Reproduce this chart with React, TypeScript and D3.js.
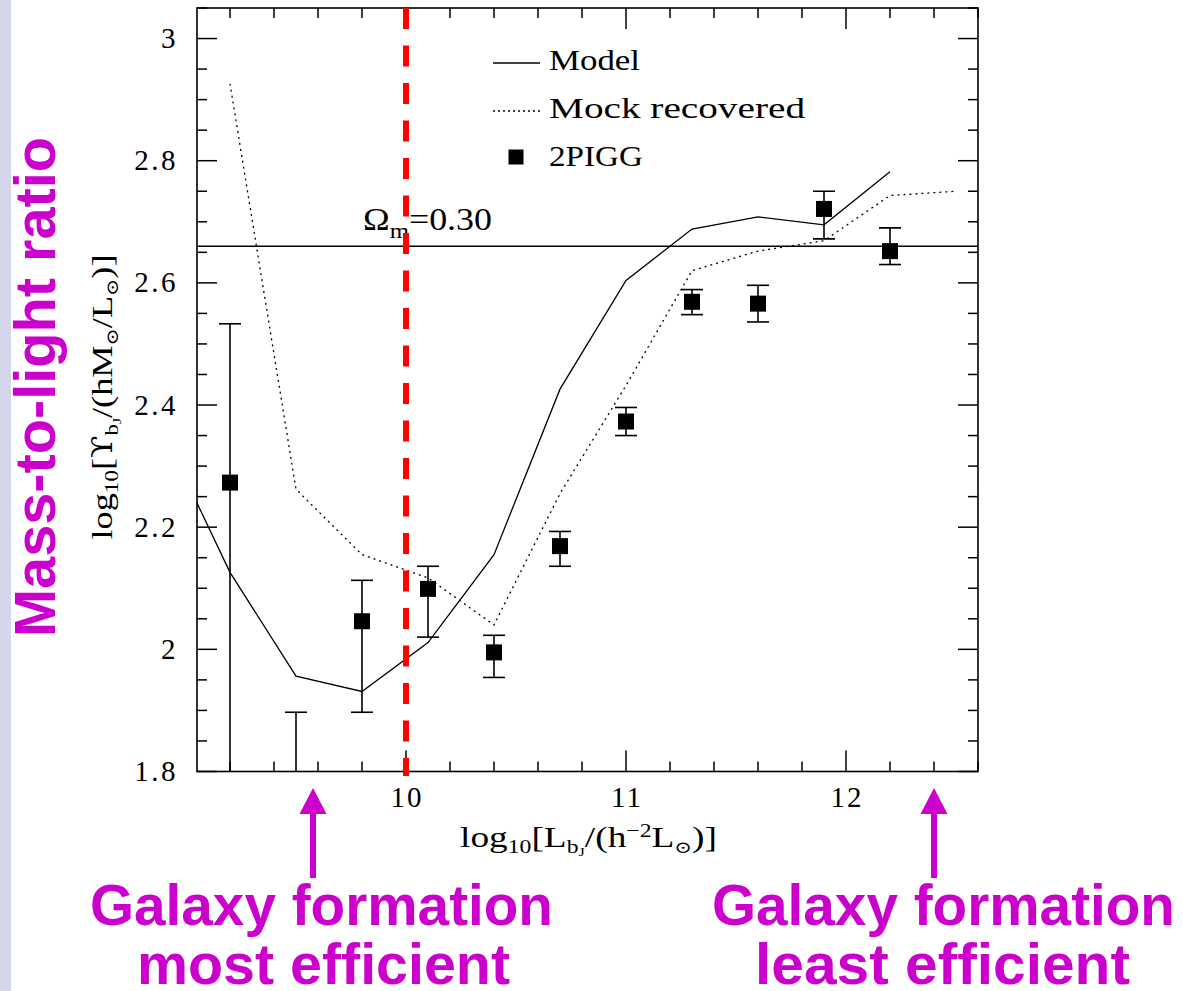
import React from "react";
import * as d3 from "d3";

// ---- data ----
const lumBins = [9.2, 9.5, 9.8, 10.1, 10.4, 10.7, 11.0, 11.3, 11.6, 11.9, 12.2];
const piggValue = [2.273, 1.7, 2.046, 2.099, 1.995, 2.169, 2.373, 2.569, 2.566, 2.721, 2.652];
const piggUpper = [2.533, 1.897, 2.113, 2.136, 2.023, 2.193, 2.396, 2.589, 2.596, 2.75, 2.69];
const piggLower = [1.6, 1.6, 1.897, 2.02, 1.954, 2.136, 2.35, 2.548, 2.536, 2.672, 2.63];

const modelX = [8.9, 9.2, 9.5, 9.8, 10.1, 10.4, 10.7, 11.0, 11.3, 11.6, 11.9, 12.2];
const modelY = [2.353, 2.126, 1.956, 1.931, 2.011, 2.155, 2.426, 2.604, 2.688, 2.708, 2.695, 2.782];

const mockX = [9.2, 9.5, 9.8, 10.1, 10.4, 10.7, 11.0, 11.3, 11.6, 11.9, 12.2, 12.5];
const mockY = [2.926, 2.262, 2.155, 2.117, 2.04, 2.255, 2.432, 2.62, 2.652, 2.669, 2.743, 2.75];

const omegaLevel = 2.66;
const markerX = 10;
const xTickLabels = [10, 11, 12];
const yTickLabels = [1.8, 2, 2.2, 2.4, 2.6, 2.8, 3];
const legendLabels = ["Model", "Mock recovered", "2PIGG"];

const W = 1183;
const H = 991;
const MAG = "#cc00cc";
const SERIF = "'Liberation Serif', 'DejaVu Serif', serif";
const SANS = "'Liberation Sans', Arial, sans-serif";

export default function App() {
  const x = d3.scaleLinear().domain([9.05, 12.6]).range([197, 978]);
  const y = d3.scaleLinear().domain([1.8, 3.05]).range([771.5, 8]);
  const [x0, x1] = x.range();
  const [yb, yt] = y.range();

  const line = d3
    .line<[number, number]>()
    .x((d) => x(d[0]))
    .y((d) => y(d[1]));

  const modelPath = line(modelX.map((v, i) => [v, modelY[i]]) as [number, number][]) || "";
  const mockPath = line(mockX.map((v, i) => [v, mockY[i]]) as [number, number][]) || "";

  // ticks
  const yTicks = d3.range(0, 26).map((i) => 1.8 + i * 0.05).filter((v) => v <= 3.05 + 1e-9);
  const xTicks = d3.range(0, 18).map((i) => 9.2 + i * 0.2).filter((v) => v <= 12.6 + 1e-9);
  const isMajorY = (v: number) => Math.abs(v * 5 - Math.round(v * 5)) < 1e-6;
  const isMajorX = (v: number) => Math.abs(v - Math.round(v)) < 1e-6;

  const sq = 16;
  const cap = 11;

  return (
    <svg
      width={W}
      height={H}
      style={{ position: "absolute", left: 0, top: 0, background: "#fff" }}
      xmlns="http://www.w3.org/2000/svg"
    >
      <rect x={0} y={0} width={W} height={H} fill="#fff" />
      <rect x={0} y={0} width={11} height={H} fill="#d6d6ea" />
      <defs>
        <clipPath id="plotclip">
          <rect x={x0} y={yt} width={x1 - x0} height={yb - yt} />
        </clipPath>
      </defs>

      {/* frame */}
      <rect x={x0} y={yt} width={x1 - x0} height={yb - yt} fill="none" stroke="#000" strokeWidth={1.6} />

      {/* ticks */}
      <g stroke="#000" strokeWidth={1.5}>
        {yTicks.map((v, i) => {
          const len = isMajorY(v) ? 20 : 10;
          return (
            <g key={"yt" + i}>
              <line x1={x0} x2={x0 + len} y1={y(v)} y2={y(v)} />
              <line x1={x1} x2={x1 - len} y1={y(v)} y2={y(v)} />
            </g>
          );
        })}
        {xTicks.map((v, i) => {
          const len = isMajorX(v) ? 21 : 10;
          return (
            <g key={"xt" + i}>
              <line x1={x(v)} x2={x(v)} y1={yb} y2={yb - len} />
              <line x1={x(v)} x2={x(v)} y1={yt} y2={yt + len} />
            </g>
          );
        })}
      </g>

      {/* tick labels */}
      <g fontFamily={SERIF} fontSize={29} fill="#000">
        {yTickLabels.map((v) => (
          <text key={"yl" + v} x={178} y={y(v) + 9.5} textAnchor="end" letterSpacing={2.5}>
            {String(v)}
          </text>
        ))}
        {xTickLabels.map((v) => (
          <text key={"xl" + v} x={x(v) + 1} y={807} textAnchor="middle" letterSpacing={2}>
            {String(v)}
          </text>
        ))}
      </g>

      {/* axis titles */}
      <text
        x={588.5}
        y={847}
        fontFamily={SERIF}
        fontSize={30}
        textAnchor="middle"
        textLength={257}
        lengthAdjust="spacingAndGlyphs"
      >
        <tspan>log</tspan>
        <tspan fontSize={19} dy={6}>10</tspan>
        <tspan dy={-6}>[L</tspan>
        <tspan fontSize={19} dy={6}>b</tspan>
        <tspan fontSize={13} dy={3}>J</tspan>
        <tspan dy={-9}>/(h</tspan>
        <tspan fontSize={19} dy={-10}>−2</tspan>
        <tspan dy={10}>L</tspan>
        <tspan fontSize={17} dy={6}>⊙</tspan>
        <tspan dy={-6}>)]</tspan>
      </text>
      <text
        transform="translate(112,397) rotate(-90)"
        x={0}
        y={0}
        fontFamily={SERIF}
        fontSize={30}
        textAnchor="middle"
        textLength={285}
        lengthAdjust="spacingAndGlyphs"
      >
        <tspan>log</tspan>
        <tspan fontSize={19} dy={6}>10</tspan>
        <tspan dy={-6}>[</tspan>
        <tspan fontFamily="'DejaVu Serif', serif" fontSize={27}>ϒ</tspan>
        <tspan fontSize={19} dy={6}>b</tspan>
        <tspan fontSize={13} dy={3}>J</tspan>
        <tspan dy={-9}>/(hM</tspan>
        <tspan fontSize={17} dy={6}>⊙</tspan>
        <tspan dy={-6}>/L</tspan>
        <tspan fontSize={17} dy={6}>⊙</tspan>
        <tspan dy={-6}>)]</tspan>
      </text>

      {/* plot content */}
      <g clipPath="url(#plotclip)">
        <line x1={x0} x2={x1} y1={y(omegaLevel)} y2={y(omegaLevel)} stroke="#000" strokeWidth={1.5} />
        <path d={modelPath} fill="none" stroke="#000" strokeWidth={1.3} />
        <path d={mockPath} fill="none" stroke="#000" strokeWidth={1.3} strokeDasharray="2 4" />
        {lumBins.map((v, i) => (
          <g key={"p" + i}>
            <line x1={x(v)} x2={x(v)} y1={y(piggLower[i])} y2={y(piggUpper[i])} stroke="#000" strokeWidth={1.6} />
            <line x1={x(v) - cap} x2={x(v) + cap} y1={y(piggUpper[i])} y2={y(piggUpper[i])} stroke="#000" strokeWidth={1.6} />
            <line x1={x(v) - cap} x2={x(v) + cap} y1={y(piggLower[i])} y2={y(piggLower[i])} stroke="#000" strokeWidth={1.6} />
            <rect x={x(v) - sq / 2} y={y(piggValue[i]) - sq / 2} width={sq} height={sq} fill="#000" />
          </g>
        ))}
      </g>

      {/* Omega label */}
      <text x={363} y={230} fontFamily={SERIF} fontSize={32} textLength={129} lengthAdjust="spacingAndGlyphs">
        <tspan>Ω</tspan>
        <tspan fontSize={22} dy={8}>m</tspan>
        <tspan dy={-8}>=0.30</tspan>
      </text>

      {/* legend */}
      <g fontFamily={SERIF} fontSize={30}>
        <line x1={493} x2={540} y1={63} y2={63} stroke="#000" strokeWidth={1.3} />
        <text x={549} y={70} textLength={91} lengthAdjust="spacingAndGlyphs">{legendLabels[0]}</text>
        <line x1={493} x2={540} y1={111} y2={111} stroke="#000" strokeWidth={1.3} strokeDasharray="2 3" />
        <text x={549} y={118} textLength={256} lengthAdjust="spacingAndGlyphs">{legendLabels[1]}</text>
        <rect x={508.5} y={149.5} width={15} height={15} fill="#000" />
        <text x={549} y={166} textLength={94} lengthAdjust="spacingAndGlyphs">{legendLabels[2]}</text>
      </g>

      {/* red dashed marker */}
      <line
        x1={x(markerX)}
        x2={x(markerX)}
        y1={yt}
        y2={776}
        stroke="#f00"
        strokeWidth={6}
        strokeDasharray="21 16.5"
      />

      {/* annotations */}
      <text
        transform="translate(55,387) rotate(-90)"
        fontFamily={SANS}
        fontWeight="bold"
        fontSize={57}
        fill={MAG}
        textAnchor="middle"
        textLength={500}
        lengthAdjust="spacingAndGlyphs"
      >
        Mass-to-light ratio
      </text>

      {[313, 934].map((cx) => (
        <g key={"arr" + cx} fill={MAG}>
          <rect x={cx - 3} y={812} width={6} height={66} />
          <path d={`M${cx},788 L${cx + 13.5},814 L${cx - 13.5},814 Z`} />
        </g>
      ))}

      <g fontFamily={SANS} fontWeight="bold" fontSize={57} fill={MAG} textAnchor="middle">
        <text x={321.5} y={925} textLength={463} lengthAdjust="spacingAndGlyphs">Galaxy formation</text>
        <text x={323.5} y={984} textLength={373} lengthAdjust="spacingAndGlyphs">most efficient</text>
        <text x={943.5} y={925} textLength={463} lengthAdjust="spacingAndGlyphs">Galaxy formation</text>
        <text x={942.5} y={984} textLength={375} lengthAdjust="spacingAndGlyphs">least efficient</text>
      </g>
    </svg>
  );
}
